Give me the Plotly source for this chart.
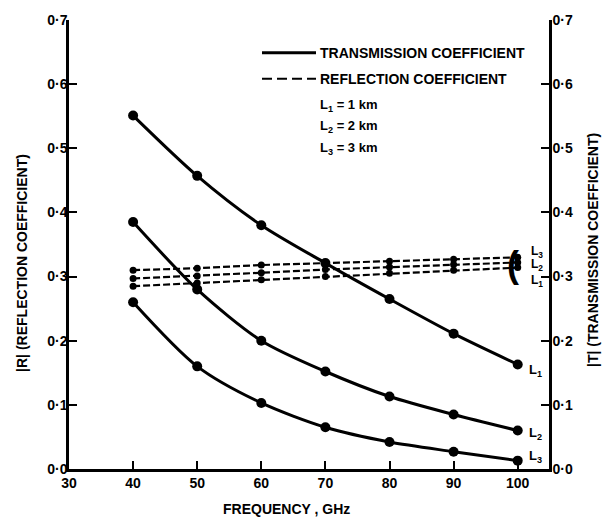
import plotly.graph_objects as go

# Frequency points (GHz)
freq = [40, 50, 60, 70, 80, 90, 100]

# |T| transmission coefficient for path lengths L1, L2, L3
trans_L1 = [0.551, 0.457, 0.380, 0.321, 0.265, 0.211, 0.163]
trans_L2 = [0.385, 0.280, 0.200, 0.152, 0.113, 0.085, 0.060]
trans_L3 = [0.260, 0.160, 0.103, 0.065, 0.042, 0.027, 0.013]

# |R| reflection coefficient for path lengths L1, L2, L3
refl_L1 = [0.285, 0.290, 0.295, 0.300, 0.305, 0.310, 0.314]
refl_L2 = [0.297, 0.301, 0.306, 0.311, 0.315, 0.319, 0.322]
refl_L3 = [0.310, 0.313, 0.318, 0.321, 0.324, 0.327, 0.330]

x_ticks = [30, 40, 50, 60, 70, 80, 90, 100]
y_ticks = [0.0, 0.1, 0.2, 0.3, 0.4, 0.5, 0.6, 0.7]
y_tick_text = ["0·0", "0·1", "0·2", "0·3", "0·4", "0·5", "0·6", "0·7"]

FAMILY = "Liberation Sans"
FONT = dict(family=FAMILY, size=14, color="black", weight="bold")
SMALL = dict(family=FAMILY, size=13, color="black", weight="bold")

fig = go.Figure()

for vals in (refl_L1, refl_L2, refl_L3):
    fig.add_trace(go.Scatter(
        x=freq, y=vals, mode="lines+markers", yaxis="y",
        line=dict(color="black", width=2.2, dash="7px,3px"),
        marker=dict(size=7, color="black"),
        showlegend=False, hoverinfo="skip"))

for vals in (trans_L1, trans_L2, trans_L3):
    fig.add_trace(go.Scatter(
        x=freq, y=vals, mode="lines+markers", yaxis="y2",
        line=dict(color="black", width=3, shape="spline", smoothing=0.8),
        marker=dict(size=10, color="black"),
        showlegend=False, hoverinfo="skip"))

# Plot-area geometry (pixels) used to place the hand-drawn key and titles
L, R, T, B = 69, 57, 18, 52
W, H = 606, 521
pw, ph = W - L - R, H - T - B


def px_x(px):
    return (px - L) / pw


def px_y(py):
    return (H - B - py) / ph


shapes = [
    dict(type="line", xref="paper", yref="paper",
         x0=px_x(262), x1=px_x(316), y0=px_y(51), y1=px_y(51),
         line=dict(color="black", width=3)),
    dict(type="line", xref="paper", yref="paper",
         x0=px_x(262), x1=px_x(316), y0=px_y(77), y1=px_y(77),
         line=dict(color="black", width=2.2, dash="10px,5px")),
]

annotations = []
key_rows = [
    ("TRANSMISSION COEFFICIENT", 51),
    ("REFLECTION COEFFICIENT", 77),
    ("L<sub>1</sub> = 1 km", 104),
    ("L<sub>2</sub> = 2 km", 125),
    ("L<sub>3</sub> = 3 km", 147),
]
for text, py in key_rows:
    annotations.append(dict(
        text=text, xref="paper", yref="paper", x=px_x(318), y=px_y(py),
        xanchor="left", yanchor="middle", showarrow=False,
        font=FONT if py < 90 else SMALL))

# Axis titles
annotations += [
    dict(text="FREQUENCY , GHz", xref="paper", yref="paper",
         x=px_x(286), y=px_y(509), xanchor="center", yanchor="middle",
         showarrow=False, font=FONT),
    dict(text="|R| (REFLECTION COEFFICIENT)", xref="paper", yref="paper",
         x=px_x(22), y=px_y(262), xanchor="center", yanchor="middle",
         textangle=-90, showarrow=False, font=FONT),
    dict(text="|T| (TRANSMISSION COEFFICIENT)", xref="paper", yref="paper",
         x=px_x(593), y=px_y(249), xanchor="center", yanchor="middle",
         textangle=-90, showarrow=False, font=FONT),
]

# Curve labels at the 100 GHz end
for name, vals, dy in (("L<sub>1</sub>", trans_L1, -6),
                       ("L<sub>2</sub>", trans_L2, -3),
                       ("L<sub>3</sub>", trans_L3, 4)):
    annotations.append(dict(
        text=name, xref="x", yref="y2", x=freq[-1], y=vals[-1],
        xanchor="left", yanchor="middle", xshift=9, yshift=dy,
        showarrow=False, font=SMALL))

for name, vals, dy in (("L<sub>3</sub>", refl_L3, 5),
                       ("L<sub>2</sub>", refl_L2, -3),
                       ("L<sub>1</sub>", refl_L1, -13)):
    annotations.append(dict(
        text=name, xref="x", yref="y", x=freq[-1], y=vals[-1],
        xanchor="left", yanchor="middle", xshift=11, yshift=dy,
        showarrow=False, font=dict(family=FAMILY, size=12, color="black", weight="bold")))

# Bracket grouping the reflection curve ends
annotations.append(dict(
    text="(", xref="x", yref="y", x=freq[-1], y=refl_L2[-1],
    xanchor="right", yanchor="middle", xshift=3, yshift=-2,
    showarrow=False, font=dict(family=FAMILY, size=36, color="black")))

axis_common = dict(
    showgrid=False, zeroline=False, showline=True, linecolor="black",
    linewidth=2.5, ticks="inside", ticklen=8, tickwidth=2, tickcolor="black",
    tickfont=FONT)

fig.update_layout(
    width=W, height=H,
    margin=dict(l=L, r=R, t=T, b=B),
    paper_bgcolor="white", plot_bgcolor="white",
    font=FONT,
    xaxis=dict(range=[30, 30 + pw / 6.41], tickvals=x_ticks,
               ticklabelstandoff=-1, **axis_common),
    yaxis=dict(range=[0, 0.7], tickvals=y_ticks, ticktext=y_tick_text,
               side="left", ticklabelstandoff=-4, **axis_common),
    yaxis2=dict(range=[0, 0.7], tickvals=y_ticks, ticktext=y_tick_text,
                side="right", overlaying="y", anchor="x",
                ticklabelstandoff=-2, **axis_common),
    shapes=shapes,
    annotations=annotations,
)

fig.write_html("out.html")
